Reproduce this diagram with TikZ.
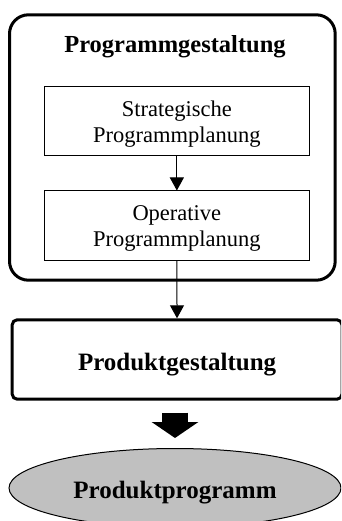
\documentclass[tikz,border=0pt]{standalone}
\usepackage{fontspec}
\setmainfont{Liberation Serif}
\usetikzlibrary{arrows.meta,shapes.geometric}
\definecolor{ellfill}{RGB}{192,192,192}
\tikzset{
  bigbox/.style={draw=black, line width=3pt, rounded corners=19pt, minimum width=325.7pt, minimum height=265.4pt, inner sep=0pt},
  titletext/.style={font=\fontsize{24.5}{29}\selectfont\bfseries, inner sep=0pt, anchor=base},
  planbox/.style={draw=black, line width=1pt, minimum width=264.3pt, minimum height=69pt, inner sep=0pt, align=center,
    font=\fontsize{22.5}{26}\selectfont, text height=43pt, text depth=0.5pt},
  prodbox/.style={draw=black, line width=3pt, rounded corners=5pt, minimum width=329.8pt, minimum height=79.4pt, inner sep=0pt,
    font=\fontsize{25}{30}\selectfont\bfseries, text height=21pt, text depth=0pt},
  resultell/.style={ellipse, draw=black, line width=1pt, fill=ellfill, minimum width=332pt, minimum height=79pt, inner sep=0pt,
    font=\fontsize{25}{30}\selectfont\bfseries, text height=20pt, text depth=0pt},
  thinarrow/.style={line width=1pt, -{Triangle[width=14pt,length=13pt]}},
  fatarrow/.style={line width=26pt, -{Triangle[width=46pt,length=16pt]}, shorten <=12pt, shorten >=10pt}
}
\begin{document}
\begin{tikzpicture}[x=1pt,y=-1pt]
\useasboundingbox (0,0) rectangle (341,521);
\clip (0,0) rectangle (341,521);
\node[bigbox] (outer) at (172.35,147.5) {};
\node[titletext] (title) at (175,53) {Programmgestaltung};
\node[planbox] (strat) at (176.85,121.35) {Strategische\\Programmplanung};
\node[planbox] (oper) at (176.85,225.5) {Operative\\Programmplanung};
\node[prodbox] (pg) at (177.1,359.5) {Produktgestaltung};
\node[resultell] (pp) at (175,488) {Produktprogramm};
\draw[thinarrow] (strat) -- (oper);
\draw[thinarrow] (oper) -- (pg);
\draw[fatarrow] (pp.north |- pg.south) -- (pp.north);
\end{tikzpicture}
\end{document}
